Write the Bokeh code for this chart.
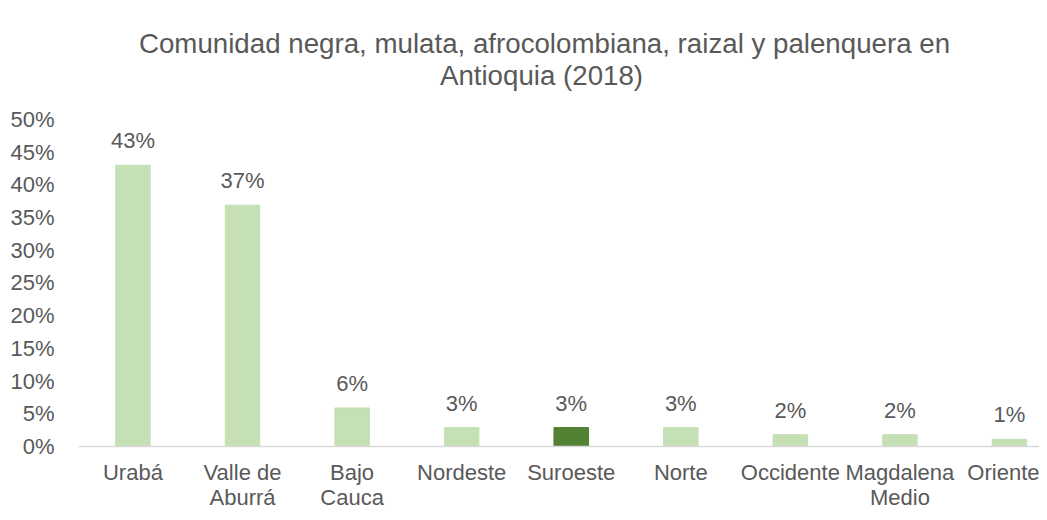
from bokeh.plotting import figure
from bokeh.models import ColumnDataSource, LabelSet, Label, Range1d, FixedTicker
from bokeh.core.properties import value
from bokeh.embed import file_html
from bokeh.resources import INLINE

categories = ["Urabá", "Valle de\nAburrá", "Bajo\nCauca", "Nordeste", "Suroeste",
              "Norte", "Occidente", "Magdalena\nMedio", "Oriente"]
values = [43.0, 36.9, 5.9, 2.9, 2.9, 2.9, 1.8, 1.8, 1.1]
labels = ["43%", "37%", "6%", "3%", "3%", "3%", "2%", "2%", "1%"]
colors = ["#C5E0B4", "#C5E0B4", "#C5E0B4", "#C5E0B4", "#548235",
          "#C5E0B4", "#C5E0B4", "#C5E0B4", "#C5E0B4"]
y_ticks = [0, 5, 10, 15, 20, 25, 30, 35, 40, 45, 50]
y_tick_labels = {t: f"{t}%" for t in y_ticks}
title_line1 = "Comunidad negra, mulata, afrocolombiana, raizal y palenquera en"
title_line2 = "Antioquia (2018)"

FONT = "Liberation Sans"
GRAY = "#595959"

X0, X1 = -0.497, 8.274
Y0, Y1 = 0, 66.36        # headroom above the 50% tick holds the two-line title
YTOP = y_ticks[-1]

xs = list(range(len(categories)))
src = ColumnDataSource(dict(x=xs, top=values, color=colors, label=labels))

p = figure(width=1039, height=512, output_backend="svg", toolbar_location=None,
           x_range=Range1d(X0, X1), y_range=Range1d(Y0, Y1),
           min_border_left=78, min_border_right=0, min_border_top=12, min_border_bottom=0)

p.vbar(x="x", top="top", width=0.315, color="color", source=src)

p.add_layout(LabelSet(x="x", y="top", text="label", source=src, text_align="center",
                      text_baseline="bottom", y_offset=12, text_font=value(FONT),
                      text_font_size="22px", text_color=GRAY))

# title: two centred lines placed a fixed number of pixels above the 50% tick
for txt, dx, dy in [(title_line1, 466, 76), (title_line2, 463, 44)]:
    p.add_layout(Label(x=X0, y=YTOP, x_offset=dx, y_offset=dy, text=txt,
                       text_align="center", text_baseline="alphabetic",
                       text_font=FONT, text_font_size="27.7px",
                       text_color=GRAY))

p.xaxis.ticker = FixedTicker(ticks=xs)
p.xaxis.major_label_overrides = {i: c for i, c in enumerate(categories)}
p.xaxis.axis_line_color = "#D9D9D9"
p.xaxis.axis_line_width = 1.5
p.xaxis.major_tick_line_color = None
p.xaxis.minor_tick_line_color = None
p.xaxis.major_label_standoff = 7
p.xaxis.major_label_text_font = FONT
p.xaxis.major_label_text_font_size = "22px"
p.xaxis.major_label_text_line_height = 1.0
p.xaxis.major_label_text_color = GRAY

p.yaxis.ticker = FixedTicker(ticks=y_ticks)
p.yaxis.major_label_overrides = y_tick_labels
p.yaxis.axis_line_color = None
p.yaxis.major_tick_line_color = None
p.yaxis.minor_tick_line_color = None
p.yaxis.major_label_standoff = 18
p.yaxis.major_label_text_font = FONT
p.yaxis.major_label_text_font_size = "22px"
p.yaxis.major_label_text_color = GRAY

p.xgrid.visible = False
p.ygrid.visible = False
p.outline_line_color = None

open("out.html", "w").write(file_html(p, INLINE))
